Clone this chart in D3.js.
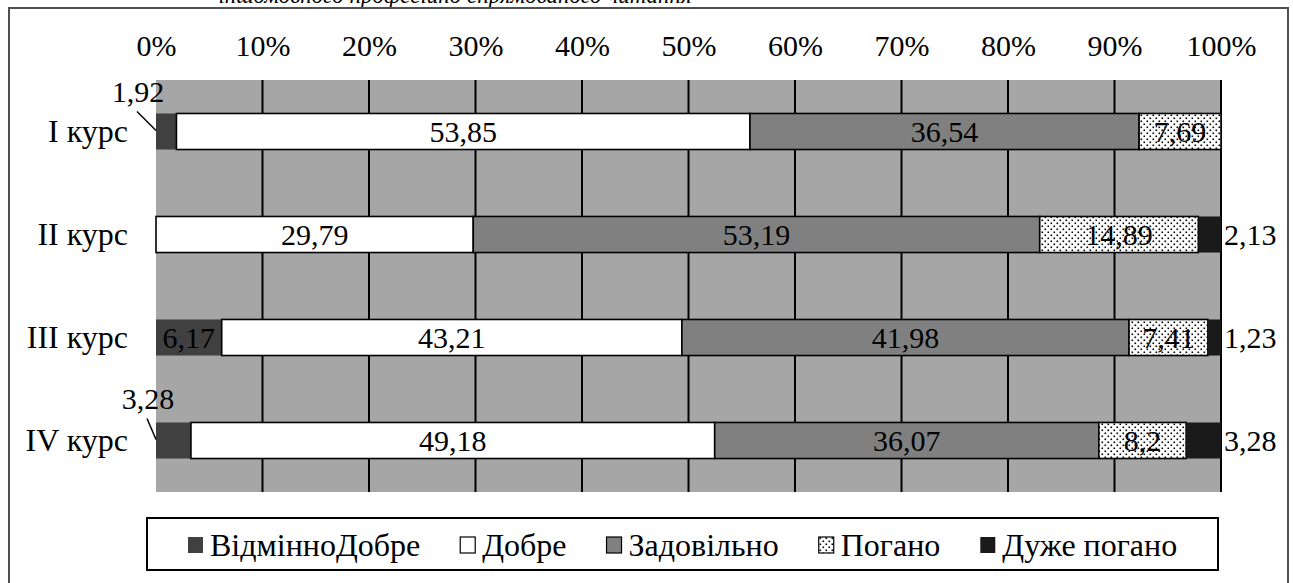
<!DOCTYPE html>
<html>
<head>
<meta charset="utf-8">
<script src="https://cdn.jsdelivr.net/npm/d3@7"></script>
<style>
  html, body { margin: 0; padding: 0; background: #fff; }
  svg { display: block; }
</style>
</head>
<body>
<svg id="chart" width="1293" height="583"></svg>
<script>
// Courses (rows) and grade categories (stacked segments), values in %
const courses = ["I курс", "II курс", "III курс", "IV курс"];
const seriesNames = ["ВідмінноДобре", "Добре", "Задовільно", "Погано", "Дуже погано"];
const excellent    = [1.92, 0, 6.17, 3.28];
const good         = [53.85, 29.79, 43.21, 49.18];
const satisfactory = [36.54, 53.19, 41.98, 36.07];
const poor         = [7.69, 14.89, 7.41, 8.2];
const veryPoor     = [0, 2.13, 1.23, 3.28];
const tickValues   = [0, 10, 20, 30, 40, 50, 60, 70, 80, 90, 100];
const captionText  = "іншомовного професійно спрямованого читання";

const seriesValues = [excellent, good, satisfactory, poor, veryPoor];
const rows = courses.map((c, i) => {
  const r = { course: c };
  seriesNames.forEach((s, k) => r[s] = seriesValues[k][i]);
  return r;
});

// callout leader offsets (dx, dy) for thin first segments
const calloutOffset = { "I курс": [-19, -20], "IV курс": [-9, -22] };

const FONT = "serif";

const svg = d3.select("#chart");
const W = 1293, H = 583;
const plot = { left: 156, right: 1221, top: 80, bottom: 492 };

const fills = {
  "ВідмінноДобре": "#404040",
  "Добре": "#ffffff",
  "Задовільно": "#808080",
  "Погано": "url(#dots)",
  "Дуже погано": "#1a1a1a"
};
const bordered = { "Добре": true, "Задовільно": true, "Погано": true };

function txt(sel, size) {
  return sel.style("font-family", FONT).style("font-size", (size || 30) + "px").attr("fill", "#000");
}

// dotted fill
const defs = svg.append("defs");
const pat = defs.append("pattern").attr("id", "dots")
  .attr("patternUnits", "userSpaceOnUse").attr("width", 6).attr("height", 6);
pat.append("rect").attr("width", 6).attr("height", 6).attr("fill", "#fff");
pat.append("rect").attr("x", 0.5).attr("y", 0.5).attr("width", 1.6).attr("height", 1.6).attr("fill", "#000");
pat.append("rect").attr("x", 3.5).attr("y", 3.5).attr("width", 1.6).attr("height", 1.6).attr("fill", "#000");

// caption (only its lower part shows above the frame)
txt(svg.append("text").attr("x", 455).attr("y", 3)
  .attr("text-anchor", "middle").style("font-style", "italic")
  .text(captionText), 23);

// outer frame
svg.append("path")
  .attr("d", `M9,${H + 5} V8 H1288 V${H + 5}`)
  .attr("fill", "none").attr("stroke", "#505050").attr("stroke-width", 2);

const x = d3.scaleLinear().domain([0, 100]).range([plot.left, plot.right]);
const y = d3.scaleBand().domain(courses).range([plot.top, plot.bottom])
  .paddingInner(0.65).paddingOuter(0.325);

// plot background
svg.append("rect").attr("x", plot.left).attr("y", plot.top)
  .attr("width", plot.right - plot.left).attr("height", plot.bottom - plot.top)
  .attr("fill", "#a6a6a6");

// gridlines
svg.append("g").selectAll("line").data(tickValues.filter(d => d > 0)).join("line")
  .attr("x1", d => x(d)).attr("x2", d => x(d))
  .attr("y1", plot.top).attr("y2", plot.bottom)
  .attr("stroke", "#000").attr("stroke-width", 2);

// top axis tick labels
const axis = d3.axisTop(x).tickValues(tickValues).tickSize(0).tickPadding(0)
  .tickFormat(d => d + "%");
const gAxis = svg.append("g").attr("transform", "translate(0,56)").call(axis);
gAxis.select(".domain").remove();
txt(gAxis.selectAll("text"), 30);

// category labels
const yAxis = d3.axisLeft(y).tickSize(0).tickPadding(0);
const gY = svg.append("g").attr("transform", "translate(128,0)").call(yAxis);
gY.select(".domain").remove();
txt(gY.selectAll("text"), 32).attr("dy", "0.34em");

// stacked bars
const stack = d3.stack().keys(seriesNames);
const layers = stack(rows);
const fmt = v => String(v).replace(".", ",");

const gBars = svg.append("g");
layers.forEach(layer => {
  const key = layer.key;
  gBars.append("g").selectAll("rect").data(layer.filter(d => d[1] - d[0] > 0)).join("rect")
    .attr("x", d => x(d[0]))
    .attr("y", d => y(d.data.course))
    .attr("width", d => x(d[1]) - x(d[0]))
    .attr("height", y.bandwidth())
    .attr("fill", fills[key])
    .attr("stroke", bordered[key] ? "#000" : "none")
    .attr("stroke-width", 1.6);
});

// value labels
const gLab = svg.append("g");
layers.forEach(layer => {
  const key = layer.key;
  layer.forEach(d => {
    const v = d[1] - d[0];
    if (v <= 0) return;
    const val = d.data[key];
    const cy = y(d.data.course) + y.bandwidth() / 2;
    if (key === "Дуже погано") {
      txt(gLab.append("text").attr("x", x(d[1]) + 3).attr("y", cy).attr("dy", "0.34em"), 30)
        .text(fmt(val));
    } else if (key === "ВідмінноДобре" && v < 5) {
      const [dx, dy] = calloutOffset[d.data.course] || [-15, -20];
      const bx = x(d[0]), by = cy;
      gLab.append("line").attr("x1", bx).attr("y1", by - 1)
        .attr("x2", bx + dx).attr("y2", by + dy)
        .attr("stroke", "#000").attr("stroke-width", 1.5);
      txt(gLab.append("text").attr("x", bx + dx + 1).attr("y", by + dy - 10)
        .attr("text-anchor", "middle"), 30).text(fmt(val));
    } else {
      txt(gLab.append("text").attr("x", (x(d[0]) + x(d[1])) / 2).attr("y", cy).attr("dy", "0.34em")
        .attr("text-anchor", "middle"), 30).text(fmt(val));
    }
  });
});

// legend
const lg = svg.append("g");
lg.append("rect").attr("x", 147).attr("y", 518).attr("width", 1071).attr("height", 52)
  .attr("fill", "#fff").attr("stroke", "#000").attr("stroke-width", 2);
let lx = 188;
const ly = 545;
seriesNames.forEach(s => {
  lg.append("rect").attr("x", lx).attr("y", ly - 8).attr("width", 15).attr("height", 16)
    .attr("fill", fills[s]).attr("stroke", bordered[s] ? "#000" : "none").attr("stroke-width", 1.2);
  const t = txt(lg.append("text").attr("x", lx + 22).attr("y", ly).attr("dy", "0.34em"), 32).text(s);
  lx += 22 + t.node().getComputedTextLength() + 40;
});
</script>
</body>
</html>
